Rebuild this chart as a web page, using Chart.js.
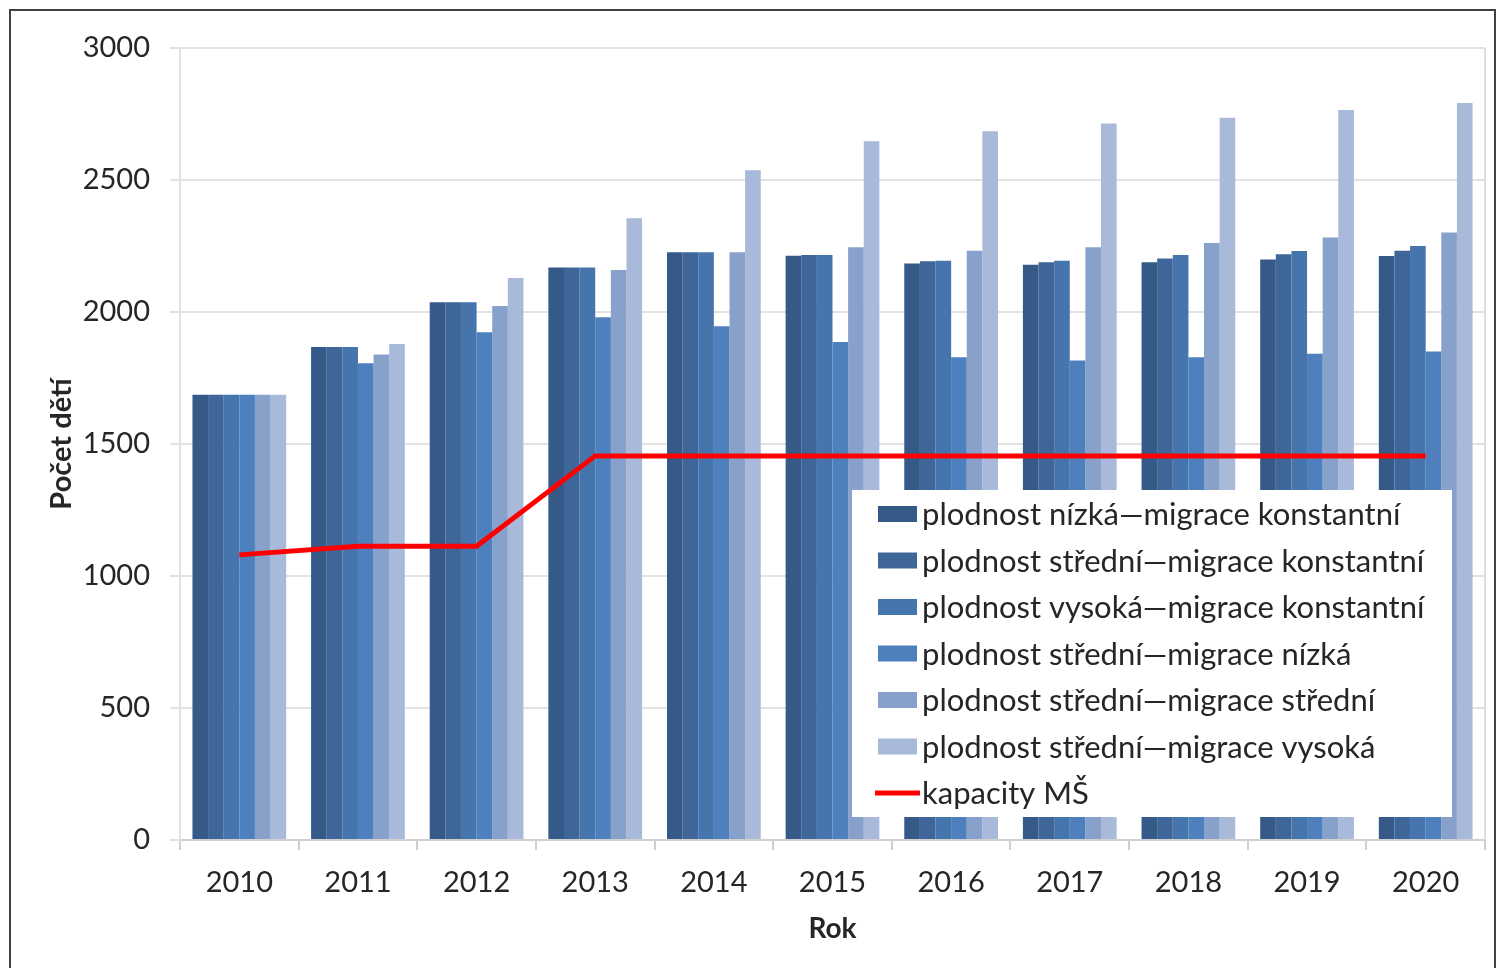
<!DOCTYPE html>
<html><head><meta charset="utf-8">
<script src="https://cdn.jsdelivr.net/npm/chart.js@4"></script>
<style>html,body{margin:0;padding:0;background:#fff;overflow:hidden}
#wrap{position:absolute;left:0;top:0;width:1505px;height:968px}
</style></head><body><div id="wrap"><canvas id="c" width="1505" height="968"></canvas></div>
<script>
const years = ['2010','2011','2012','2013','2014','2015','2016','2017','2018','2019','2020'];
const nizkaKonst   = [1687,1867,2037,2169,2226,2213,2184,2179,2188,2199,2212];
const stredniKonst = [1687,1867,2037,2169,2226,2216,2192,2188,2203,2219,2232];
const vysokaKonst  = [1687,1867,2037,2169,2226,2216,2194,2194,2216,2231,2250];
const stredniNizka = [1687,1806,1923,1980,1946,1886,1829,1816,1829,1842,1850];
const stredniStredni = [1687,1839,2023,2159,2226,2245,2232,2245,2261,2282,2301];
const stredniVysoka  = [1687,1879,2129,2355,2537,2647,2685,2714,2736,2765,2792];
const kapacityMS   = [1080,1113,1113,1455,1455,1455,1455,1455,1455,1455,1455];
const yTicks = [0,500,1000,1500,2000,2500,3000];

const FONT = 'Lato, "Open Sans", sans-serif';
const TXT = '#262626';

const frame = {
  id:'frame',
  beforeDraw(chart){
    const c = chart.ctx; c.save();
    c.fillStyle='#fff'; c.fillRect(0,0,chart.width,chart.height);
    c.strokeStyle='#404040'; c.lineWidth=2;
    c.strokeRect(10,10,1485,980);
    c.restore();
  },
  afterDraw(chart){
    const a = chart.chartArea, c = chart.ctx; c.save();
    c.strokeStyle='#dcdcdc'; c.lineWidth=2;
    c.beginPath(); c.moveTo(a.right, a.top); c.lineTo(a.right, a.bottom); c.stroke();
    c.restore();
  }
};

const legendBox = {
  id:'legendBox',
  afterDatasetsDraw(chart){
    const a = chart.chartArea, c = chart.ctx;
    const x0 = a.right - 633, y0 = a.bottom - 350, w = 600, h = 327;
    c.save();
    c.fillStyle='#fff'; c.fillRect(x0,y0,w,h);
    c.font = '31px ' + FONT; c.textBaseline='middle'; c.fillStyle=TXT;
    chart.data.datasets.forEach((ds,i)=>{
      const yc = y0 + 24 + i*46.5;
      if (ds.type === 'line') {
        c.strokeStyle = ds.borderColor; c.lineWidth = 5;
        c.beginPath(); c.moveTo(x0+23, yc); c.lineTo(x0+68, yc); c.stroke();
      } else {
        c.fillStyle = ds.backgroundColor; c.fillRect(x0+26, yc-8, 39, 16);
      }
      c.fillStyle = TXT; c.fillText(ds.label, x0+70, yc+1);
    });
    c.restore();
  }
};

const barColors = ['#355a87','#3e6699','#4674ad','#4e80bd','#87a1cb','#a9b9d9'];
const barSeries = [
  ['plodnost nízká—migrace konstantní', nizkaKonst],
  ['plodnost střední—migrace konstantní', stredniKonst],
  ['plodnost vysoká—migrace konstantní', vysokaKonst],
  ['plodnost střední—migrace nízká', stredniNizka],
  ['plodnost střední—migrace střední', stredniStredni],
  ['plodnost střední—migrace vysoká', stredniVysoka]
];
const datasets = barSeries.map((s,i)=>({
  type:'bar', label:s[0], data:s[1], backgroundColor:barColors[i], borderWidth:0,
  categoryPercentage:0.79, barPercentage:1.0, order:1
}));
datasets.push({type:'line', label:'kapacity MŠ', data:kapacityMS, borderColor:'#ff0000',
  backgroundColor:'#ff0000', borderWidth:5, pointRadius:0, tension:0, order:-1});

new Chart(document.getElementById('c'), {
  data:{labels:years, datasets},
  options:{
    responsive:false, animation:false, devicePixelRatio:1,
    layout:{padding:{left:30, right:20, top:48, bottom:18}},
    plugins:{legend:{display:false}, tooltip:{enabled:false}},
    scales:{
      x:{
        grid:{offset:true, drawOnChartArea:false, drawTicks:true, tickLength:10, color:'#d0d0d0', lineWidth:2},
        border:{display:true, color:'#d0d0d0', width:2},
        ticks:{color:TXT, font:{family:FONT, size:29}, padding:15, maxRotation:0},
        title:{display:true, text:'Rok', color:TXT, font:{family:FONT, size:28, weight:'bold'}, padding:{top:4,bottom:4}},
        afterFit(s){ s.height = 110; }
      },
      y:{
        min:0, max:3000,
        afterBuildTicks(s){ s.ticks = yTicks.map(v=>({value:v})); },
        grid:{color:'#e2e2e2', lineWidth:2, tickLength:10, drawTicks:true},
        border:{display:true, color:'#e2e2e2', width:2},
        ticks:{color:TXT, font:{family:FONT, size:29}, padding:20, callback:(v)=>String(v)},
        title:{display:true, text:'Počet dětí', color:TXT, font:{family:FONT, size:29, weight:'bold'}, padding:{top:14,bottom:14}},
        afterFit(s){ s.width = 150; }
      }
    }
  },
  plugins:[frame, legendBox]
});
</script></body></html>
